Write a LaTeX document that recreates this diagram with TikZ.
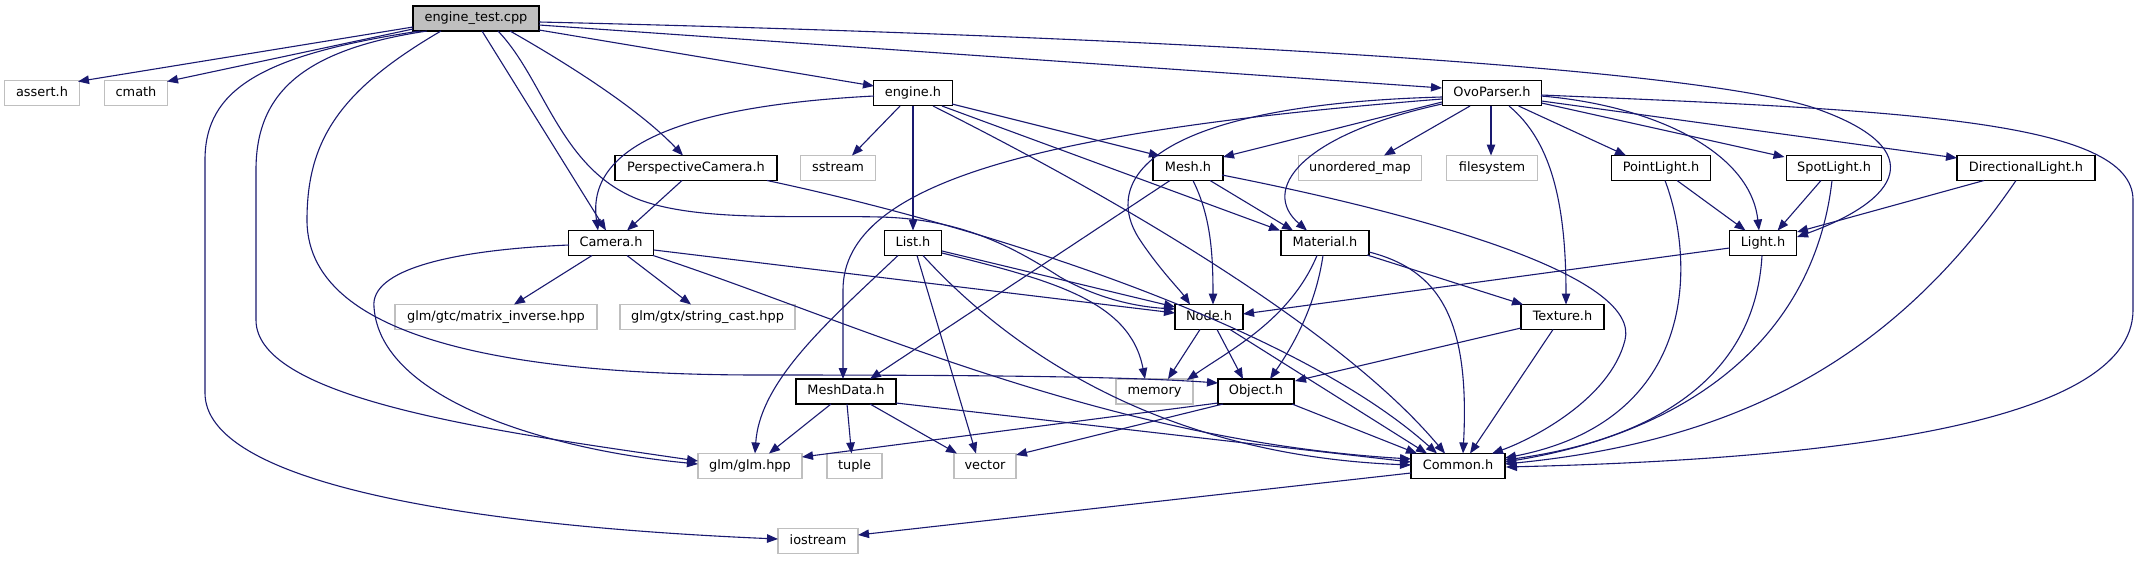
\documentclass[tikz,border=0pt]{standalone}
\usepackage{fontspec}
\setmainfont{DejaVu Sans}
\usetikzlibrary{arrows.meta}
\definecolor{edgeblue}{RGB}{25,25,112}
\definecolor{extgray}{RGB}{191,191,191}
\begin{document}
\begin{tikzpicture}[x=1pt,y=-1pt,
  nd/.style={draw=black,fill=white,line width=1.2pt,minimum height=25pt,inner sep=0pt,
    font=\fontsize{12.9}{15}\selectfont,text height=9.5pt,text depth=3pt},
  ext/.style={nd,draw=extgray},
  root/.style={nd,fill=extgray},
  ed/.style={draw=edgeblue,line width=1.1pt,-{Triangle[length=11pt,width=8.5pt]}}]
\fill[white] (0,0) rectangle (2139,560);
\useasboundingbox (0,0) rectangle (2139,560);
% nodes
\node[root,minimum width=126pt] (engt) at (476,18.5) {engine\_test.cpp};
\node[ext,minimum width=75pt] (assert) at (42,93) {assert.h};
\node[ext,minimum width=63pt] (cmath) at (136,93) {cmath};
\node[nd,minimum width=79pt] (engineh) at (913,93) {engine.h};
\node[nd,minimum width=99pt] (ovo) at (1492,93) {OvoParser.h};
\node[nd,minimum width=162pt] (persp) at (696,168) {PerspectiveCamera.h};
\node[ext,minimum width=75pt] (sstream) at (838,168) {sstream};
\node[nd,minimum width=70pt] (mesh) at (1188,168) {Mesh.h};
\node[ext,minimum width=123pt] (umap) at (1360,168) {unordered\_map};
\node[ext,minimum width=91pt] (filesys) at (1492,168) {filesystem};
\node[nd,minimum width=99pt] (pointl) at (1661,168) {PointLight.h};
\node[nd,minimum width=95pt] (spotl) at (1834,168) {SpotLight.h};
\node[nd,minimum width=138pt] (dirl) at (2026,168) {DirectionalLight.h};
\node[nd,minimum width=85pt] (camera) at (611,243) {Camera.h};
\node[nd,minimum width=57pt] (list) at (913,243) {List.h};
\node[nd,minimum width=88pt] (material) at (1325,243) {Material.h};
\node[nd,minimum width=67pt] (light) at (1763,243) {Light.h};
\node[ext,minimum width=202pt] (matinv) at (496,317) {glm/gtc/matrix\_inverse.hpp};
\node[ext,minimum width=175pt] (strcast) at (707.5,317) {glm/gtx/string\_cast.hpp};
\node[nd,minimum width=68pt] (node) at (1209,317) {Node.h};
\node[nd,minimum width=83pt] (texture) at (1562.5,317) {Texture.h};
\node[nd,minimum width=100pt] (meshdata) at (846,391.5) {MeshData.h};
\node[ext,minimum width=77pt] (memory) at (1154.5,391.5) {memory};
\node[nd,minimum width=76pt] (object) at (1256,391.5) {Object.h};
\node[ext,minimum width=104pt] (glm) at (750,466) {glm/glm.hpp};
\node[ext,minimum width=55pt] (tuple) at (854.5,466) {tuple};
\node[ext,minimum width=62pt] (vector) at (985,466) {vector};
\node[nd,minimum width=94pt] (common) at (1458,466) {Common.h};
\node[ext,minimum width=80pt] (iostream) at (818,541) {iostream};
% engine_test.cpp
\draw[ed] ([shift={(-63,8.5)}]engt.center) -- ([shift={(36,-11.5)}]assert.center);
\draw[ed] ([shift={(-63,10.5)}]engt.center) -- ([shift={(31,-11.5)}]cmath.center);
\draw[ed] ([shift={(-56,12.5)}]engt.center) .. controls (260,55) and (205,90) .. (205,160) -- (205,393) .. controls (205,480) and (450,525) .. ([shift={(-40,-2)}]iostream.center);
\draw[ed] ([shift={(-49,12.5)}]engt.center) .. controls (300,50) and (256,95) .. (256,170) -- (256,320) .. controls (256,400) and (500,432) .. ([shift={(-52,-5)}]glm.center);
\draw[ed] ([shift={(-35,12.5)}]engt.center) .. controls (340,90) and (307,140) .. (307,220) .. controls (307,350) and (550,375) .. (760,375) .. controls (950,375) and (1120,376) .. ([shift={(-38,-8.5)}]object.center);
\draw[ed] ([shift={(6,12.5)}]engt.center) -- ([shift={(-5,-12.5)}]camera.center);
\draw[ed] ([shift={(22,12.5)}]engt.center) .. controls (545,80) and (560,170) .. (640,200) .. controls (700,222) and (800,215) .. (880,217) .. controls (960,219) and (1010,245) .. (1060,277) .. controls (1100,300) and (1140,307) .. ([shift={(-34,-8)}]node.center);
\draw[ed] ([shift={(34,12.5)}]engt.center) .. controls (570,65) and (640,110) .. ([shift={(-13,-12.5)}]persp.center);
\draw[ed] ([shift={(63,11.5)}]engt.center) -- ([shift={(-39,-7)}]engineh.center);
\draw[ed] ([shift={(63,6.5)}]engt.center) -- ([shift={(-50,-5)}]ovo.center);
\draw[ed] ([shift={(63,3.5)}]engt.center) .. controls (1100,35) and (1700,65) .. (1820,110) .. controls (1930,150) and (1900,200) .. ([shift={(34,-6)}]light.center);
% engine.h
\draw[ed] ([shift={(-39,3)}]engineh.center) .. controls (700,105) and (585,140) .. ([shift={(-13,-12.5)}]camera.center);
\draw[ed] ([shift={(-13,13)}]engineh.center) -- ([shift={(14,-12.5)}]sstream.center);
\draw[ed] ([shift={(0,13)}]engineh.center) -- ([shift={(0,-12.5)}]list.center);
\draw[ed] ([shift={(39,11)}]engineh.center) -- ([shift={(-28,-12)}]mesh.center);
\draw[ed] ([shift={(29,13)}]engineh.center) -- ([shift={(-45,-12.5)}]material.center);
\draw[ed] ([shift={(20,13)}]engineh.center) .. controls (1150,215) and (1350,340) .. ([shift={(-13,-12.5)}]common.center);
% PerspectiveCamera.h
\draw[ed] ([shift={(-14,12.5)}]persp.center) -- ([shift={(16,-12.5)}]camera.center);
\draw[ed] ([shift={(71,12.5)}]persp.center) .. controls (1000,230) and (1300,330) .. ([shift={(-21,-12.5)}]common.center);
% Camera.h
\draw[ed] ([shift={(-19,12.5)}]camera.center) -- ([shift={(18,-12.5)}]matinv.center);
\draw[ed] ([shift={(16,12.5)}]camera.center) -- ([shift={(-16.5,-12.5)}]strcast.center);
\draw[ed] ([shift={(43,7)}]camera.center) -- ([shift={(-34,-4)}]node.center);
\draw[ed] ([shift={(-42,2)}]camera.center) .. controls (450,250) and (370,270) .. (374,307) .. controls (380,400) and (550,450) .. ([shift={(-52,-2)}]glm.center);
\draw[ed] ([shift={(42,12.5)}]camera.center) .. controls (850,320) and (1100,440) .. ([shift={(-47,-7)}]common.center);
% List.h
\draw[ed] ([shift={(29,8)}]list.center) -- ([shift={(-34,-10)}]node.center);
\draw[ed] ([shift={(29,10)}]list.center) .. controls (1050,280) and (1130,300) .. ([shift={(-9.5,-12.5)}]memory.center);
\draw[ed] ([shift={(4,12.5)}]list.center) -- ([shift={(-9,-12.5)}]vector.center);
\draw[ed] ([shift={(-15,12.5)}]list.center) .. controls (830,320) and (760,380) .. ([shift={(5,-12.5)}]glm.center);
\draw[ed] ([shift={(10,12.5)}]list.center) .. controls (1000,340) and (1150,455) .. ([shift={(-47,-1)}]common.center);
% OvoParser.h
\draw[ed] ([shift={(-50,9)}]ovo.center) -- ([shift={(35,-11)}]mesh.center);
\draw[ed] ([shift={(-22,13)}]ovo.center) -- ([shift={(24,-12.5)}]umap.center);
\draw[ed] ([shift={(-1,13)}]ovo.center) -- ([shift={(-1,-12.5)}]filesys.center);
\draw[ed] ([shift={(26.6,13)}]ovo.center) -- ([shift={(-35,-12.5)}]pointl.center);
\draw[ed] ([shift={(49.5,10)}]ovo.center) -- ([shift={(-49.5,-11)}]spotl.center);
\draw[ed] ([shift={(49.5,8)}]ovo.center) -- ([shift={(-69,-10)}]dirl.center);
\draw[ed] ([shift={(49,3)}]ovo.center) .. controls (1650,105) and (1750,150) .. ([shift={(-4,-12.5)}]light.center);
\draw[ed] ([shift={(17,13)}]ovo.center) .. controls (1550,140) and (1566,200) .. ([shift={(3.5,-12.5)}]texture.center);
\draw[ed] ([shift={(-50,11)}]ovo.center) .. controls (1300,135) and (1260,190) .. ([shift={(-18,-12.5)}]material.center);
\draw[ed] ([shift={(-50,4)}]ovo.center) .. controls (1150,105) and (1100,180) .. (1140,240) .. controls (1160,270) and (1180,290) .. ([shift={(-19,-12.5)}]node.center);
\draw[ed] ([shift={(-50,6)}]ovo.center) .. controls (1050,130) and (843,180) .. (843,290) -- ([shift={(-3,-12.5)}]meshdata.center);
\draw[ed] ([shift={(49,2)}]ovo.center) .. controls (1900,110) and (2133,120) .. (2133,200) -- (2133,310) .. controls (2133,430) and (1800,460) .. ([shift={(48,1)}]common.center);
% Mesh.h
\draw[ed] ([shift={(5,12.5)}]mesh.center) .. controls (1210,215) and (1213,250) .. ([shift={(4,-12.5)}]node.center);
\draw[ed] ([shift={(22,12.5)}]mesh.center) -- ([shift={(-32,-12.5)}]material.center);
\draw[ed] ([shift={(-18,12.5)}]mesh.center) -- ([shift={(24,-12.5)}]meshdata.center);
\draw[ed] ([shift={(34,7)}]mesh.center) .. controls (1450,220) and (1640,280) .. (1625,340) .. controls (1610,400) and (1530,440) .. ([shift={(34,-12.5)}]common.center);
% Material.h
\draw[ed] ([shift={(42,12)}]material.center) -- ([shift={(-39.5,-12.5)}]texture.center);
\draw[ed] ([shift={(-2,12.5)}]material.center) .. controls (1315,310) and (1290,350) .. ([shift={(14,-12.5)}]object.center);
\draw[ed] ([shift={(-8,12.5)}]material.center) .. controls (1290,320) and (1230,350) .. ([shift={(32.5,-11.5)}]memory.center);
\draw[ed] ([shift={(44,9)}]material.center) .. controls (1440,270) and (1470,320) .. ([shift={(5,-12.5)}]common.center);
% Node.h
\draw[ed] ([shift={(-9,12.5)}]node.center) -- ([shift={(13.5,-12.5)}]memory.center);
\draw[ed] ([shift={(8,12.5)}]node.center) -- ([shift={(-13,-12.5)}]object.center);
\draw[ed] ([shift={(21,12.5)}]node.center) -- ([shift={(-31,-12.5)}]common.center);
% Texture.h
\draw[ed] ([shift={(-41.5,11)}]texture.center) -- ([shift={(39,-10.5)}]object.center);
\draw[ed] ([shift={(-9.5,12.5)}]texture.center) -- ([shift={(12,-12.5)}]common.center);
% Light.h
\draw[ed] ([shift={(-33.5,5)}]light.center) -- ([shift={(34,-3)}]node.center);
\draw[ed] ([shift={(-1,12.5)}]light.center) .. controls (1755,380) and (1650,440) .. ([shift={(47,-6)}]common.center);
% PointLight.h
\draw[ed] ([shift={(16,12.5)}]pointl.center) -- ([shift={(-17.5,-12.5)}]light.center);
\draw[ed] ([shift={(4,12.5)}]pointl.center) .. controls (1695,260) and (1700,420) .. ([shift={(47,-8)}]common.center);
% SpotLight.h
\draw[ed] ([shift={(-13,12.5)}]spotl.center) -- ([shift={(14.6,-12.5)}]light.center);
\draw[ed] ([shift={(-2,12.5)}]spotl.center) .. controls (1815,330) and (1700,430) .. ([shift={(47,-4)}]common.center);
% DirectionalLight.h
\draw[ed] ([shift={(-42,12.5)}]dirl.center) -- ([shift={(34,-11)}]light.center);
\draw[ed] ([shift={(-10,12.5)}]dirl.center) .. controls (1900,350) and (1750,440) .. ([shift={(47,-2)}]common.center);
% Object.h
\draw[ed] ([shift={(-38,11.5)}]object.center) -- ([shift={(52,-9)}]glm.center);
\draw[ed] ([shift={(-33,12.5)}]object.center) -- ([shift={(31,-11)}]vector.center);
\draw[ed] ([shift={(36,12.5)}]object.center) -- ([shift={(-41,-12.5)}]common.center);
% MeshData.h
\draw[ed] ([shift={(-15,12.5)}]meshdata.center) -- ([shift={(19,-12.5)}]glm.center);
\draw[ed] ([shift={(1,12.5)}]meshdata.center) -- ([shift={(-3,-12.5)}]tuple.center);
\draw[ed] ([shift={(24,12.5)}]meshdata.center) -- ([shift={(-28,-12.5)}]vector.center);
\draw[ed] ([shift={(50,11.5)}]meshdata.center) -- ([shift={(-47,-4)}]common.center);
% Common.h
\draw[ed] ([shift={(-47,7)}]common.center) -- ([shift={(40,-6)}]iostream.center);
\end{tikzpicture}
\end{document}
